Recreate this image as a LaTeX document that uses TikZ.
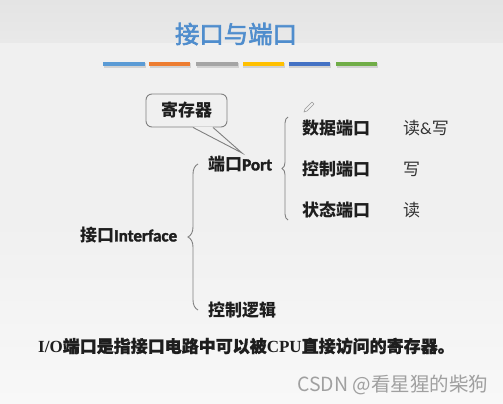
\documentclass[tikz,border=0pt]{standalone}
\usepackage{fontspec}
\setmainfont{Liberation Serif}
\newfontfamily\cjk{Noto Sans CJK SC}
\newfontfamily\cjkm{Noto Sans CJK SC}[FakeBold=1]
\newfontfamily\cjkt{Noto Sans CJK SC}[FakeBold=2.5]
\newfontfamily\carlito{Carlito}
\newfontfamily\carlitob{Carlito}[FakeBold=2]
\usetikzlibrary{decorations.pathreplacing}
\definecolor{bgmain}{HTML}{F0F0F0}
\definecolor{bgbot}{HTML}{F8F8F8}
\definecolor{bgtopa}{HTML}{E4E4E4}
\definecolor{bgtopb}{HTML}{E9E9E9}
\definecolor{titleblue}{HTML}{4F8DCD}
\definecolor{barA}{HTML}{5B9BD5}
\definecolor{barB}{HTML}{ED7D31}
\definecolor{barC}{HTML}{A5A5A5}
\definecolor{barD}{HTML}{FFC000}
\definecolor{barE}{HTML}{4472C4}
\definecolor{barF}{HTML}{70AD47}
\definecolor{ink}{HTML}{1E1E1E}
\definecolor{soft}{HTML}{333333}
\definecolor{linegray}{HTML}{808080}
\definecolor{wm}{HTML}{A0A0A0}
\begin{document}
\begin{tikzpicture}[x=1pt,y=-1pt,
  item/.style={anchor=west, inner sep=0pt, text=ink, font=\fontsize{17}{20}\selectfont\bfseries},
  rwtext/.style={anchor=west, inner sep=0pt, text=soft, font=\fontsize{17}{20}\selectfont\cjk},
  bracegray/.style={draw=linegray, line width=0.9pt, decorate},
  calloutbox/.style={draw=linegray, line width=0.9pt, rounded corners=6pt, fill=bgmain,
    minimum width=81pt, minimum height=33pt, inner sep=0pt, text=ink,
    font=\fontsize{17}{20}\selectfont\cjk\bfseries},
  titletext/.style={inner sep=0pt, text=titleblue, font=\fontsize{24.4}{28}\selectfont\cjkt},
  notetext/.style={anchor=west, inner sep=0pt, text=ink, font=\fontsize{17}{20}\selectfont\bfseries},
  marktext/.style={anchor=west, inner sep=0pt, text=wm, font=\fontsize{19.5}{22}\selectfont\cjk},
  barshadow/.style={fill=black, opacity=0.12}
]
\useasboundingbox (0,0) rectangle (503,404);
% background
\fill[bgmain] (0,0) rectangle (503,404);
\shade[top color=bgmain, bottom color=bgbot] (0,220) rectangle (503,404);
\shade[top color=bgtopa, bottom color=bgtopb] (0,0) rectangle (503,43);

% title
\node[titletext] (title) at (236,34) {接口与端口};

% colour bars
\foreach \x/\c in {103.3/barA,149/barB,196.3/barC,242.7/barD,288.7/barE,336/barF}{
  \fill[barshadow] (\x+0.6,63.2) rectangle ++(41.6,4.4);
  \fill[\c] (\x,62) rectangle ++(41.4,4.4);
}

% main items
\node[item] (port) at (208,164) {{\cjk\bfseries 端口}{\carlitob Port}};
\node[item] (iface) at (80,235) {{\cjk\bfseries 接口}{\carlitob Interface}};
\node[item] (ctrl) at (208,310) {\cjk\bfseries 控制逻辑};
\node[item] (data) at (302,128) {\cjk\bfseries 数据端口};
\node[item] (ctrlp) at (302,169.5) {\cjk\bfseries 控制端口};
\node[item] (stat) at (302,210) {\cjk\bfseries 状态端口};
\node[rwtext] (rw) at (403,128) {读{\carlito\&}写};
\node[rwtext] (w) at (403,169.5) {写};
\node[rwtext] (r) at (403,210) {读};

% braces
\draw[bracegray, decoration={brace, amplitude=10pt}]
  ([xshift=-10pt]ctrl.west) -- ([xshift=-10pt]port.west);
\draw[bracegray, decoration={brace, amplitude=6pt}]
  ([xshift=-14pt,yshift=-10pt]stat.west) -- ([xshift=-14pt,yshift=11pt]data.west);

% callout
\node[calloutbox] (callout) at (186.5,110.5) {寄存器};
\coordinate (tip) at (242,153);
\fill[bgmain] ([xshift=6.5pt,yshift=0.9pt]callout.south) -- (tip) -- ([xshift=26.5pt,yshift=0.9pt]callout.south) -- cycle;
\draw[linegray, line width=0.9pt, line join=miter]
  ([xshift=6.5pt]callout.south) -- (tip) -- ([xshift=26.5pt]callout.south);

% pencil mark
\draw[gray!80, line width=0.6pt, line join=round]
  (304,112) -- (305,109) -- (312,102) -- (314,104) -- (307,111) -- cycle;

% note
\node[notetext] (note) at (38,346)
  {I/O{\cjkm 端口是指接口电路中可以被}CPU{\cjkm 直接访问的寄存器。}};

% watermark
\node[marktext] (mark) at (297,385) {CSDN @看星猩的柴狗};
\end{tikzpicture}
\end{document}
